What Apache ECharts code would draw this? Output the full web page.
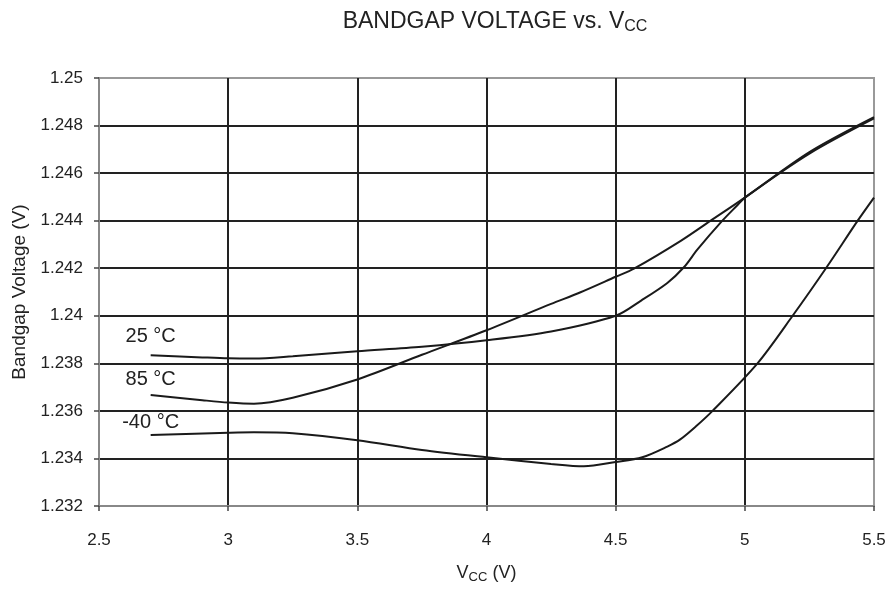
<!DOCTYPE html>
<html>
<head>
<meta charset="utf-8">
<script src="https://cdn.jsdelivr.net/npm/echarts@6/dist/echarts.min.js"></script>
<style>
html,body{margin:0;padding:0;background:#fff;}
#chart{width:891px;height:589px;}
</style>
</head>
<body>
<div id="chart"></div>
<script>
// Data (Vcc in volts, bandgap in volts)
const vcc25 = [2.7, 2.9, 3.0, 3.1, 3.25, 3.5, 3.75, 4.0, 4.25, 4.5, 4.6, 4.7, 4.765, 4.816, 4.913, 4.971, 5.0, 5.25, 5.5];
const vbg25 = [1.23834, 1.23825, 1.23821, 1.23820, 1.23830, 1.23851, 1.23870, 1.23897, 1.23934, 1.24000, 1.24065, 1.24138, 1.24205, 1.24278, 1.24400, 1.24465, 1.24497, 1.24682, 1.24830];

const vcc85 = [2.7, 2.9, 3.0, 3.1, 3.25, 3.5, 3.75, 4.0, 4.25, 4.364, 4.5, 4.571, 4.752, 4.868, 5.0, 5.25, 5.5];
const vbg85 = [1.23667, 1.23645, 1.23635, 1.23630, 1.23655, 1.23732, 1.23836, 1.23939, 1.24050, 1.24099, 1.24164, 1.24198, 1.24315, 1.24400, 1.24497, 1.24688, 1.24835];

const vccM40 = [2.7, 3.0, 3.1, 3.25, 3.5, 3.75, 4.0, 4.25, 4.377, 4.5, 4.603, 4.7, 4.75, 4.81, 4.875, 5.049, 5.185, 5.314, 5.437, 5.5];
const vbgM40 = [1.23499, 1.23508, 1.23510, 1.23506, 1.23477, 1.23436, 1.23405, 1.23377, 1.23367, 1.23385, 1.23405, 1.23450, 1.23480, 1.23534, 1.23600, 1.23800, 1.24000, 1.24200, 1.24400, 1.24497];

const seriesNames = ['25 °C', '85 °C', '-40 °C'];
const xTicks = {min: 2.5, max: 5.5, step: 0.5};
const yTicks = {min: 1.232, max: 1.25, step: 0.002};

const font = 'Liberation Sans, Arial, sans-serif';

function pairs(xs, ys, name, dist) {
  return xs.map((x, i) => {
    const item = {value: [x, ys[i]]};
    if (i === 0) {
      item.label = {show: true, formatter: name, position: 'top', distance: dist,
        fontSize: 20, color: '#222', fontFamily: font};
    }
    return item;
  });
}

const chart = echarts.init(document.getElementById('chart'));
const lineStyle = {color: '#1a1a1a', width: 2};

function lineSeries(name, xs, ys, dist) {
  return {
    name: name, type: 'line', smooth: 0.3,
    symbol: 'circle', symbolSize: 0, showSymbol: true,
    itemStyle: {color: '#1a1a1a'},
    lineStyle: lineStyle, data: pairs(xs, ys, name, dist)
  };
}

chart.setOption({
  animation: false,
  title: {
    text: '{a|BANDGAP VOLTAGE vs. V}{b|CC}',
    left: 490, top: 3, textAlign: 'center',
    textStyle: {
      rich: {
        a: {fontSize: 23, color: '#222', fontFamily: font, fontWeight: 'normal'},
        b: {fontSize: 16, color: '#222', fontFamily: font, fontWeight: 'normal', padding: [11, 0, 0, 0]}
      }
    }
  },
  grid: {left: 99, right: 17, top: 78, bottom: 81, show: true, borderColor: '#999', borderWidth: 2},
  xAxis: {
    type: 'value', min: xTicks.min, max: xTicks.max, interval: xTicks.step,
    name: '{a|V}{b|CC}{a| (V)}', nameLocation: 'middle', nameGap: 56,
    nameTextStyle: {
      rich: {
        a: {fontSize: 18, color: '#222', fontFamily: font},
        b: {fontSize: 13, color: '#222', fontFamily: font, padding: [9, 0, 0, 0]}
      }
    },
    axisLine: {show: true, lineStyle: {color: '#888', width: 2}},
    axisTick: {show: true, length: 5, lineStyle: {color: '#444', width: 1.5}},
    axisLabel: {fontSize: 17, color: '#222', fontFamily: font, margin: 26},
    splitLine: {show: true, showMinLine: false, showMaxLine: false, lineStyle: {color: '#222', width: 2}}
  },
  yAxis: {
    type: 'value', min: yTicks.min, max: yTicks.max, interval: yTicks.step,
    name: 'Bandgap Voltage (V)', nameLocation: 'middle', nameGap: 59,
    nameTextStyle: {fontSize: 19, color: '#222', fontFamily: font},
    axisLine: {show: true, lineStyle: {color: '#888', width: 2}},
    axisTick: {show: true, length: 5, lineStyle: {color: '#444', width: 1.5}},
    axisLabel: {fontSize: 17, color: '#222', fontFamily: font, margin: 16,
      formatter: v => String(parseFloat(v.toFixed(3)))},
    splitLine: {show: true, showMinLine: false, showMaxLine: false, lineStyle: {color: '#222', width: 2}}
  },
  series: [
    lineSeries(seriesNames[0], vcc25, vbg25, 9),
    lineSeries(seriesNames[1], vcc85, vbg85, 5),
    lineSeries(seriesNames[2], vccM40, vbgM40, 2)
  ]
});
</script>
</body>
</html>
